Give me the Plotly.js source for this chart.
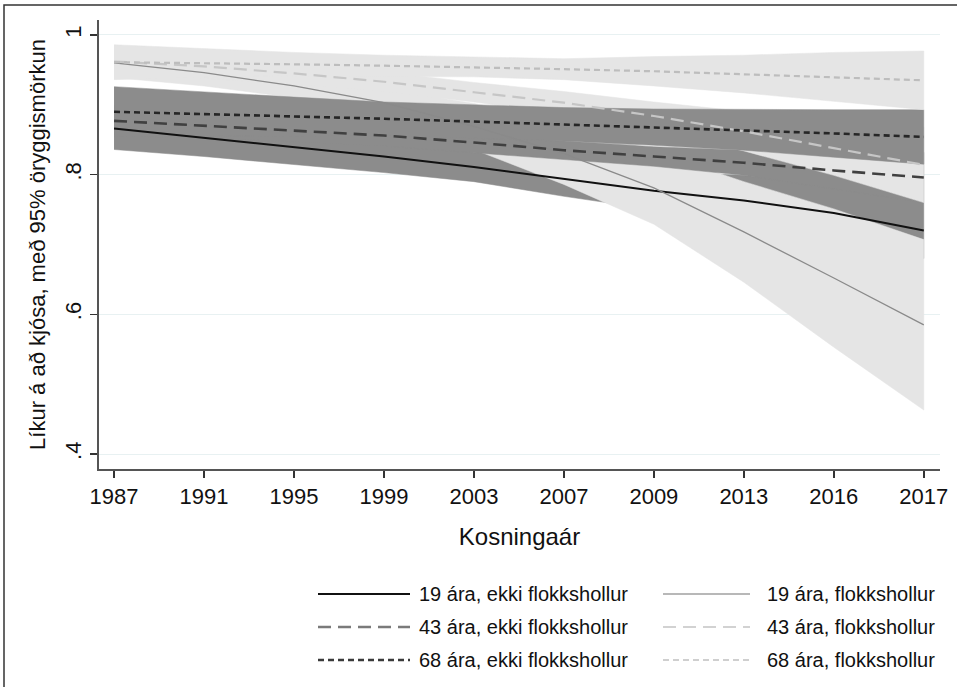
<!DOCTYPE html>
<html>
<head>
<meta charset="utf-8">
<script src="https://cdn.plot.ly/plotly-3.0.1.min.js"></script>
<style>html,body{margin:0;padding:0;background:#fff;}#chart{width:957px;height:687px;}</style>
</head>
<body>
<div id="chart"></div>
<script>
// Election years (categorical x axis)
const years = ['1987','1991','1995','1999','2003','2007','2009','2013','2016','2017'];

// 19 ára, ekki flokkshollur
const m19n  = [0.866, 0.853, 0.840, 0.826, 0.811, 0.794, 0.777, 0.763, 0.745, 0.720];
const lo19n = [0.836, 0.826, 0.815, 0.803, 0.790, 0.769, 0.750, 0.728, 0.705, 0.680];
const hi19n = [0.896, 0.880, 0.865, 0.849, 0.832, 0.819, 0.804, 0.799, 0.786, 0.760];
// 19 ára, flokkshollur
const m19p  = [0.960, 0.946, 0.927, 0.903, 0.869, 0.830, 0.781, 0.718, 0.652, 0.585];
const lo19p = [0.939, 0.927, 0.910, 0.883, 0.836, 0.786, 0.729, 0.646, 0.553, 0.463];
const hi19p = [0.981, 0.965, 0.944, 0.923, 0.902, 0.874, 0.833, 0.790, 0.751, 0.707];
// 43 ára, ekki flokkshollur
const m43n  = [0.877, 0.870, 0.863, 0.856, 0.846, 0.835, 0.826, 0.817, 0.806, 0.796];
const lo43n = [0.855, 0.852, 0.847, 0.841, 0.832, 0.822, 0.812, 0.799, 0.780, 0.760];
const hi43n = [0.899, 0.888, 0.879, 0.871, 0.860, 0.848, 0.840, 0.835, 0.832, 0.832];
// 43 ára, flokkshollur
const m43p  = [0.962, 0.955, 0.945, 0.933, 0.918, 0.903, 0.884, 0.862, 0.838, 0.814];
const lo43p = [0.942, 0.938, 0.930, 0.919, 0.904, 0.887, 0.864, 0.834, 0.799, 0.760];
const hi43p = [0.982, 0.972, 0.960, 0.947, 0.932, 0.919, 0.904, 0.890, 0.877, 0.868];
// 68 ára, ekki flokkshollur
const m68n  = [0.890, 0.887, 0.883, 0.880, 0.876, 0.872, 0.868, 0.864, 0.859, 0.854];
const lo68n = [0.854, 0.856, 0.855, 0.856, 0.852, 0.848, 0.842, 0.835, 0.825, 0.815];
const hi68n = [0.926, 0.918, 0.911, 0.904, 0.900, 0.896, 0.894, 0.893, 0.893, 0.893];
// 68 ára, flokkshollur
const m68p  = [0.961, 0.960, 0.958, 0.956, 0.954, 0.951, 0.948, 0.944, 0.940, 0.935];
const lo68p = [0.936, 0.940, 0.941, 0.941, 0.940, 0.936, 0.927, 0.917, 0.905, 0.893];
const hi68p = [0.986, 0.980, 0.975, 0.971, 0.968, 0.966, 0.969, 0.971, 0.975, 0.977];

// y-axis ticks
const yTickVals = [0.4, 0.6, 0.8, 1];
const yTickText = ['.4', '.6', '.8', '1'];

const names = ['19 ára, ekki flokkshollur', '19 ára, flokkshollur',
               '43 ára, ekki flokkshollur', '43 ára, flokkshollur',
               '68 ára, ekki flokkshollur', '68 ára, flokkshollur'];

const DARK = '#8c8c8c', LIGHT = '#e5e5e5';
const FONT = 'Liberation Sans, Arial, sans-serif';

const series = [
  {m: m19n, lo: lo19n, hi: hi19n, fill: DARK,  color: '#111111', width: 2,   dash: 'solid',    lcolor: '#111111'},
  {m: m19p, lo: lo19p, hi: hi19p, fill: LIGHT, color: '#8a8a8a', width: 1.3, dash: 'solid',    lcolor: '#a0a0a0'},
  {m: m43n, lo: lo43n, hi: hi43n, fill: DARK,  color: '#404040', width: 2.6, dash: '13px,7px', lcolor: '#7a7a7a'},
  {m: m43p, lo: lo43p, hi: hi43p, fill: LIGHT, color: '#c6c6c6', width: 2.2, dash: '13px,7px', lcolor: '#d2d2d2'},
  {m: m68n, lo: lo68n, hi: hi68n, fill: DARK,  color: '#262626', width: 2.6, dash: '6px,4px',  lcolor: '#3a3a3a'},
  {m: m68p, lo: lo68p, hi: hi68p, fill: LIGHT, color: '#bdbdbd', width: 2.2, dash: '6px,4px',  lcolor: '#cfcfcf'}
];

const traces = [];
series.forEach((s, i) => {
  traces.push({
    type: 'scatter', mode: 'lines',
    x: years.concat(years.slice().reverse()),
    y: s.hi.concat(s.lo.slice().reverse()),
    fill: 'toself', fillcolor: s.fill,
    line: {color: s.fill, width: 0.5},
    showlegend: false, hoverinfo: 'skip', name: names[i] + ' (95%)'
  });
});
series.forEach((s, i) => {
  traces.push({
    type: 'scatter', mode: 'lines', x: years, y: s.m, name: names[i],
    line: {color: s.color, width: s.width, dash: s.dash},
    showlegend: false, hoverinfo: 'skip'
  });
});

// plot-area geometry in px
const L = 99, R = 940, T = 20, B = 469;
const W = R - L, H = B - T;
const px = x => (x - L) / W;
const py = y => (B - y) / H;

const shapes = [{
  type: 'rect', xref: 'paper', yref: 'paper',
  x0: px(4), x1: px(1020), y0: py(5), y1: py(760),
  line: {color: '#333333', width: 1.5}, fillcolor: 'rgba(0,0,0,0)', layer: 'below'
}];
const annotations = [];
const rowY = [594, 627, 660];
const colLine = [[318, 410], [663, 750]];
const colText = [417, 765];
series.forEach((s, i) => {
  const r = Math.floor(i / 2), c = i % 2;
  shapes.push({
    type: 'line', xref: 'paper', yref: 'paper',
    x0: px(colLine[c][0]), x1: px(colLine[c][1]), y0: py(rowY[r]), y1: py(rowY[r]),
    line: {color: s.lcolor, width: s.width, dash: s.dash}
  });
  annotations.push({
    xref: 'paper', yref: 'paper', x: px(colText[c]), y: py(rowY[r]),
    xanchor: 'left', yanchor: 'middle', showarrow: false,
    text: names[i], font: {family: FONT, size: 20, color: '#111111'}
  });
});

const layout = {
  width: 957, height: 687,
  margin: {l: L, r: 957 - R, t: T, b: 687 - B},
  paper_bgcolor: '#ffffff', plot_bgcolor: '#ffffff',
  showlegend: false,
  font: {family: FONT, color: '#111111'},
  xaxis: {
    type: 'category', categoryarray: years, categoryorder: 'array',
    range: [-0.167, 9.18],
    showgrid: false, zeroline: false,
    showline: true, linecolor: '#555555', linewidth: 2,
    ticks: 'outside', ticklen: 7, tickwidth: 1.5, tickcolor: '#333333',
    tickfont: {family: FONT, size: 22, color: '#111111'},
    title: {text: 'Kosningaár', font: {family: FONT, size: 24, color: '#111111'}, standoff: 20},
    automargin: false, fixedrange: true
  },
  yaxis: {
    range: [0.3786, 1.0214],
    tickvals: yTickVals, ticktext: yTickText, tickangle: -90,
    showgrid: true, gridcolor: '#e8f1f2', gridwidth: 1,
    zeroline: false,
    showline: true, linecolor: '#555555', linewidth: 2,
    ticks: 'outside', ticklen: 7, tickwidth: 1.5, tickcolor: '#333333',
    tickfont: {family: FONT, size: 22, color: '#111111'},
    title: {text: 'Líkur á að kjósa, með 95% öryggismörkun', font: {family: FONT, size: 22, color: '#111111'}, standoff: 10},
    automargin: false, fixedrange: true
  },
  shapes: shapes,
  annotations: annotations
};

Plotly.newPlot('chart', traces, layout, {staticPlot: true, displayModeBar: false});
</script>
</body>
</html>
